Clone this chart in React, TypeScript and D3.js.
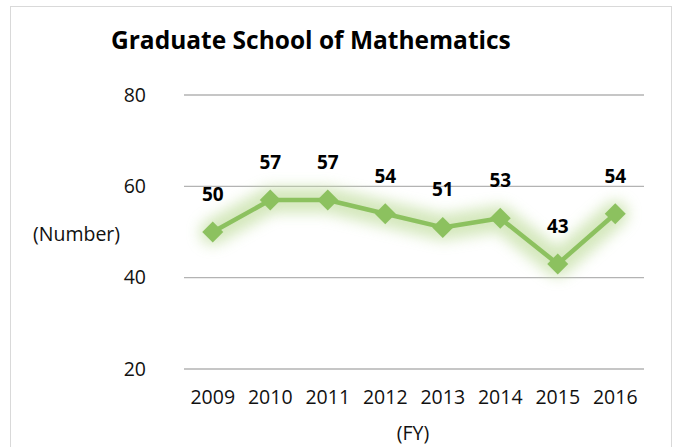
import { scaleBand, scaleLinear, line, symbol, symbolSquare } from "d3";

const years = ["2009", "2010", "2011", "2012", "2013", "2014", "2015", "2016"];
const counts = [50, 57, 57, 54, 51, 53, 43, 54];
const yTicks = [20, 40, 60, 80];

const width = 676;
const height = 447;
const plot = { left: 184, right: 644, top: 95, bottom: 369 };
const font = "'Open Sans', 'Liberation Sans', sans-serif";
const green = "#8cc15f";

const App = () => {
  const x = scaleBand().domain(years).range([plot.left, plot.right]);
  const y = scaleLinear().domain([20, 80]).range([plot.bottom, plot.top]);

  const cx = (i: number) => (x(years[i]) ?? 0) + x.bandwidth() / 2;

  const path = line<number>()
    .x((_, i) => cx(i))
    .y((d) => y(d))(counts);

  // square turned 45deg = Excel diamond marker
  const diamond = symbol().type(symbolSquare).size(220)();

  return (
    <svg
      width={width}
      height={height}
      style={{ position: "absolute", left: 0, top: 0, background: "#fff" }}
    >
      <defs>
        <filter id="glow" x="-20%" y="-60%" width="140%" height="220%">
          <feGaussianBlur stdDeviation="7" />
        </filter>
      </defs>
      {/* chart area border */}
      <rect x={10.5} y={6.5} width={661} height={460} fill="#fff" stroke="#d9d9d9" />

      <text x={111} y={49} fontFamily={font} fontWeight="bold" fontSize={24.5} fill="#000">
        Graduate School of Mathematics
      </text>

      {yTicks.map((t) => (
        <g key={t}>
          <line x1={plot.left} x2={plot.right} y1={y(t)} y2={y(t)} stroke="#b3b3b3" strokeWidth={1.3} />
          <text x={146} y={y(t)} dy="0.35em" textAnchor="end" fontFamily={font} fontSize={19.5} fill="#111">
            {t}
          </text>
        </g>
      ))}

      <text x={33} y={241} fontFamily={font} fontSize={19.5} fill="#111">
        (Number)
      </text>

      {years.map((yr, i) => (
        <text key={yr} x={cx(i)} y={404} textAnchor="middle" fontFamily={font} fontSize={19.5} fill="#111">
          {yr}
        </text>
      ))}
      <text x={413} y={440} textAnchor="middle" fontFamily={font} fontSize={19.5} fill="#111">
        (FY)
      </text>

      {/* glow */}
      <g filter="url(#glow)" opacity={0.7}>
        <path d={path ?? ""} fill="none" stroke="#c2dea0" strokeWidth={26} strokeLinejoin="round" strokeLinecap="round" />
      </g>

      <path d={path ?? ""} fill="none" stroke={green} strokeWidth={4.5} strokeLinejoin="round" />
      {counts.map((d, i) => (
        <path key={i} d={diamond ?? ""} transform={`translate(${cx(i)},${y(d)}) rotate(45)`} fill={green} />
      ))}

      {counts.map((d, i) => (
        <text
          key={i}
          x={cx(i)}
          y={y(d) - 31}
          textAnchor="middle"
          fontFamily={font}
          fontWeight="bold"
          fontSize={19}
          fill="#000"
        >
          {d}
        </text>
      ))}
    </svg>
  );
};

export default App;
